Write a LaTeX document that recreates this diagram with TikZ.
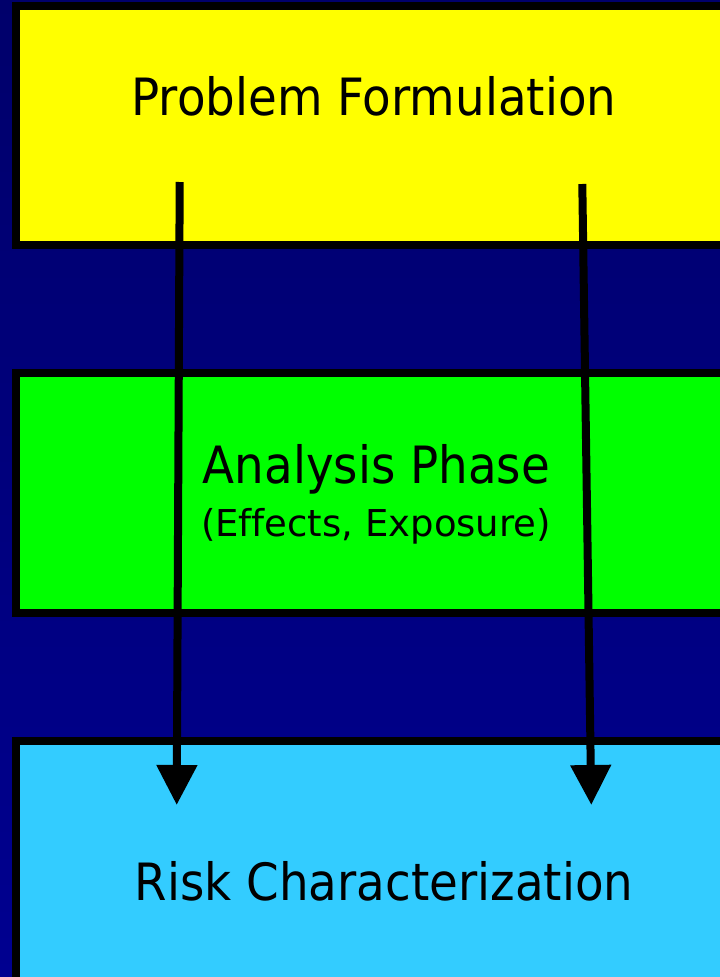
\documentclass[tikz,border=0pt]{standalone}
\usepackage{fontspec}
\setmainfont{DejaVu Sans}[FakeStretch=0.91,Ligatures=NoCommon]
\newfontfamily\smallfam{DejaVu Sans}[Ligatures=NoCommon]
\usetikzlibrary{arrows.meta}
\definecolor{bgtop}{HTML}{00006B}
\definecolor{bgbot}{HTML}{000090}
\definecolor{boxyellow}{HTML}{FFFF00}
\definecolor{boxgreen}{HTML}{00FF00}
\definecolor{boxcyan}{HTML}{33CCFF}
\tikzset{
  phasebox/.style={draw=black, line width=8pt, rectangle, inner sep=0pt, outer sep=0pt, anchor=north west},
  bigtext/.style={anchor=base, inner sep=0pt, font=\fontsize{51.4pt}{60pt}\selectfont},
  smalltext/.style={anchor=base, inner sep=0pt, font=\smallfam\fontsize{37pt}{44pt}\selectfont},
  flow/.style={draw=black, line width=8pt, -{Triangle[length=40pt,width=39pt]}}
}
\begin{document}
\begin{tikzpicture}[x=1pt,y=-1pt]
\useasboundingbox (0,0) rectangle (720,977);
\clip (0,0) rectangle (720,977);
\shade[top color=bgtop, bottom color=bgbot] (0,0) rectangle (720,977);
\node[phasebox, fill=boxyellow, minimum width=740pt, minimum height=239pt] (pf) at (16,6) {};
\node[phasebox, fill=boxgreen, minimum width=740pt, minimum height=240pt] (ap) at (16,373) {};
\node[phasebox, fill=boxcyan, minimum width=740pt, minimum height=260pt] (rc) at (16,741) {};
\node[bigtext] (pft) at (374,115.7) {Problem Formulation};
\node[bigtext] (apt) at (376.5,483.3) {Analysis Phase};
\node[smalltext] (aps) at (376,536.7) {(Effects, Exposure)};
\node[bigtext] (rct) at (384,900) {Risk Characterization};
\coordinate (l1) at (179.7,182);
\coordinate (l2) at (176.7,805);
\coordinate (r1) at (582.3,184);
\coordinate (r2) at (591.3,805);
\draw[flow] (l1) -- (l2);
\draw[flow] (r1) -- (r2);
\end{tikzpicture}
\end{document}
